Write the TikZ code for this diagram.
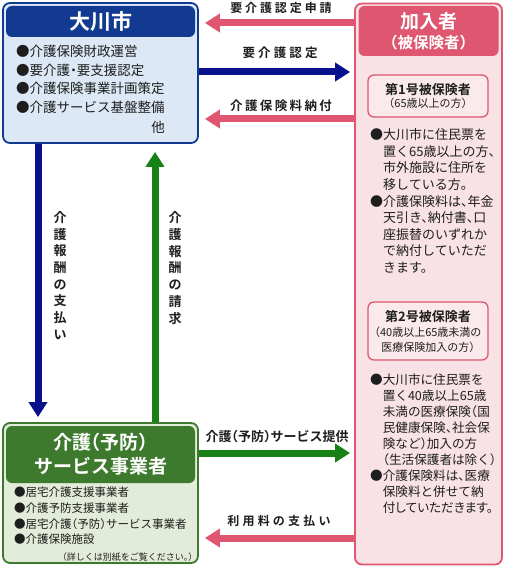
\documentclass[tikz,border=0pt]{standalone}
\usepackage{fontspec}
\setmainfont{Noto Sans CJK JP}[BoldFont={* Bold}, RawFeature=+halt]
\usepackage{tikz}
\usetikzlibrary{arrows.meta,positioning,calc}
\definecolor{cityblue}{RGB}{18,58,145}
\definecolor{cityfill}{RGB}{220,232,245}
\definecolor{memberpink}{RGB}{222,86,112}
\definecolor{memberfill}{RGB}{248,226,229}
\definecolor{groupfill}{RGB}{251,234,235}
\definecolor{provgreen}{RGB}{62,122,46}
\definecolor{provfill}{RGB}{226,236,216}
\definecolor{arrowpink}{RGB}{222,86,112}
\definecolor{arrowblue}{RGB}{8,18,140}
\definecolor{arrowgreen}{RGB}{22,130,22}
\definecolor{inkdark}{RGB}{30,30,30}

\begin{document}
\begin{tikzpicture}[x=1pt, y=-1pt,
    panel/.style={rectangle, rounded corners=7pt, line width=1.8pt, inner sep=0pt},
    headbox/.style={rectangle, rounded corners=6pt, text=white, align=center, inner sep=0pt},
    bodytext/.style={anchor=north west, align=left, text=inkdark, inner sep=0pt},
    lbl/.style={text=inkdark, inner sep=0pt},
    vlbl/.style={text=inkdark, inner sep=0pt, align=center, font=\bfseries\fontsize{13}{16.7}\selectfont},
    parrow/.style={-{Triangle[width=18pt,length=15pt]}, line width=7pt, arrowpink},
    barrow/.style={-{Triangle[width=18pt,length=15pt]}, line width=7pt, arrowblue},
    garrow/.style={-{Triangle[width=18pt,length=15pt]}, line width=7pt, arrowgreen}]

    \useasboundingbox (0,0) rectangle (504,567);

    % city
    \node[panel, draw=cityblue, fill=cityfill, minimum width=195pt, minimum height=140pt] (city) at (100.5,73) {};
    \node[headbox, fill=cityblue, minimum width=189pt, minimum height=31pt, font=\bfseries\fontsize{21}{24}\selectfont] (cityhead) at (100.5,21.5) {大川市};
    \node[bodytext, font=\fontsize{13.5}{18.5}\selectfont] (cityitems) at (16,45) {●介護保険財政運営\\●要介護・要支援認定\\●介護保険事業計画策定\\●介護サービス基盤整備};
    \node[lbl, font=\fontsize{13.5}{16}\selectfont] (cityetc) at (158,127) {他};

    % members
    \node[panel, draw=memberpink, fill=memberfill, minimum width=147pt, minimum height=561pt] (member) at (428.5,284) {};
    \node[headbox, fill=memberpink, minimum width=140pt, minimum height=50pt, font=\bfseries\fontsize{19}{20}\selectfont] (memberhead) at (428.5,31) {加入者\\{\fontsize{15.5}{20}\selectfont （被保険者）}};
    \node[panel, rounded corners=6pt, line width=1.3pt, draw=memberpink, fill=groupfill, minimum width=120pt, minimum height=42pt, align=center, text=inkdark, font=\fontsize{11}{13.5}\selectfont] (grp1) at (428,96) {{\bfseries\fontsize{13}{13.5}\selectfont 第1号被保険者}\\（65歳以上の方）};
    \node[bodytext, font=\fontsize{13}{16.6}\selectfont] (body1) at (370,128.5) {●大川市に住民票を\\\phantom{●}置く65歳以上の方、\\\phantom{●}市外施設に住所を\\\phantom{●}移している方。\\●介護保険料は、年金\\\phantom{●}天引き、納付書、口\\\phantom{●}座振替のいずれか\\\phantom{●}で納付していただ\\\phantom{●}きます。};
    \node[panel, rounded corners=6pt, line width=1.3pt, draw=memberpink, fill=groupfill, minimum width=120pt, minimum height=58pt, align=center, text=inkdark, font=\fontsize{11}{15}\selectfont] (grp2) at (428,331) {{\bfseries\fontsize{13}{15}\selectfont 第2号被保険者}\\（40歳以上65歳未満の\\医療保険加入の方）};
    \node[bodytext, font=\fontsize{12.6}{16}\selectfont] (body2) at (370,373.7) {●大川市に住民票を\\\phantom{●}置く40歳以上65歳\\\phantom{●}未満の医療保険（国\\\phantom{●}民健康保険、社会保\\\phantom{●}険など）加入の方\\\phantom{●}（生活保護者は除く）\\●介護保険料は、医療\\\phantom{●}保険料と併せて納\\\phantom{●}{\addfontfeatures{RawFeature=+palt}付していただきます。}};

    % providers
    \node[panel, draw=provgreen, fill=provfill, minimum width=195pt, minimum height=140pt] (provider) at (100.5,493) {};
    \node[headbox, fill=provgreen, minimum width=189pt, minimum height=57pt, font=\bfseries\fontsize{19}{24}\selectfont] (providerhead) at (100.5,454.5) {介護（予防）\\サービス事業者};
    \node[bodytext, font=\fontsize{11.5}{15.7}\selectfont] (provitems) at (14,487) {●居宅介護支援事業者\\●介護予防支援事業者\\●居宅介護（予防）サービス事業者\\●介護保険施設};
    \node[lbl, anchor=east, font=\fontsize{9}{10}\selectfont] (provnote) at (193,557) {（詳しくは別紙をご覧ください。）};

    % connectors
    \coordinate (row1) at (0,23);
    \coordinate (row2) at (0,72);
    \coordinate (row3) at (0,119);
    \coordinate (row4) at (0,453);
    \coordinate (row5) at (0,538);
    \coordinate (colL) at (38,0);
    \coordinate (colR) at (155,0);

    \draw[parrow, shorten >=6pt] (member.west |- row1) -- (city.east |- row1);
    \draw[barrow, shorten >=4pt] (city.east |- row2) -- (member.west |- row2);
    \draw[parrow, shorten >=6pt] (member.west |- row3) -- (city.east |- row3);
    \draw[garrow, shorten >=4pt] (provider.east |- row4) -- (member.west |- row4);
    \draw[parrow, shorten >=6pt] (member.west |- row5) -- (provider.east |- row5);
    \draw[barrow, shorten >=5pt] (city.south -| colL) -- (provider.north -| colL);
    \draw[garrow, shorten >=8pt] (provider.north -| colR) -- (city.south -| colR);

    \node[lbl, font=\bfseries\fontsize{12}{14}\selectfont\addfontfeatures{LetterSpace=24}] (applylbl) at (281,8) {要介護認定申請};
    \node[lbl, font=\bfseries\fontsize{12.5}{14}\selectfont\addfontfeatures{LetterSpace=25}] (certlbl) at (280,53) {要介護認定};
    \node[lbl, font=\bfseries\fontsize{12.5}{14}\selectfont\addfontfeatures{LetterSpace=19}] (premlbl) at (281,106) {介護保険料納付};
    \node[lbl, font=\bfseries\fontsize{13}{14}\selectfont] (servlbl) at (277,437) {介護（予防）サービス提供};
    \node[lbl, font=\bfseries\fontsize{12}{14}\selectfont\addfontfeatures{LetterSpace=27}] (feelbl) at (279,521) {利用料の支払い};
    \node[vlbl] (paylbl) at (60,275.5) {介\\護\\報\\酬\\の\\支\\払\\い};
    \node[vlbl] (claimlbl) at (175,268) {介\\護\\報\\酬\\の\\請\\求};
\end{tikzpicture}
\end{document}
